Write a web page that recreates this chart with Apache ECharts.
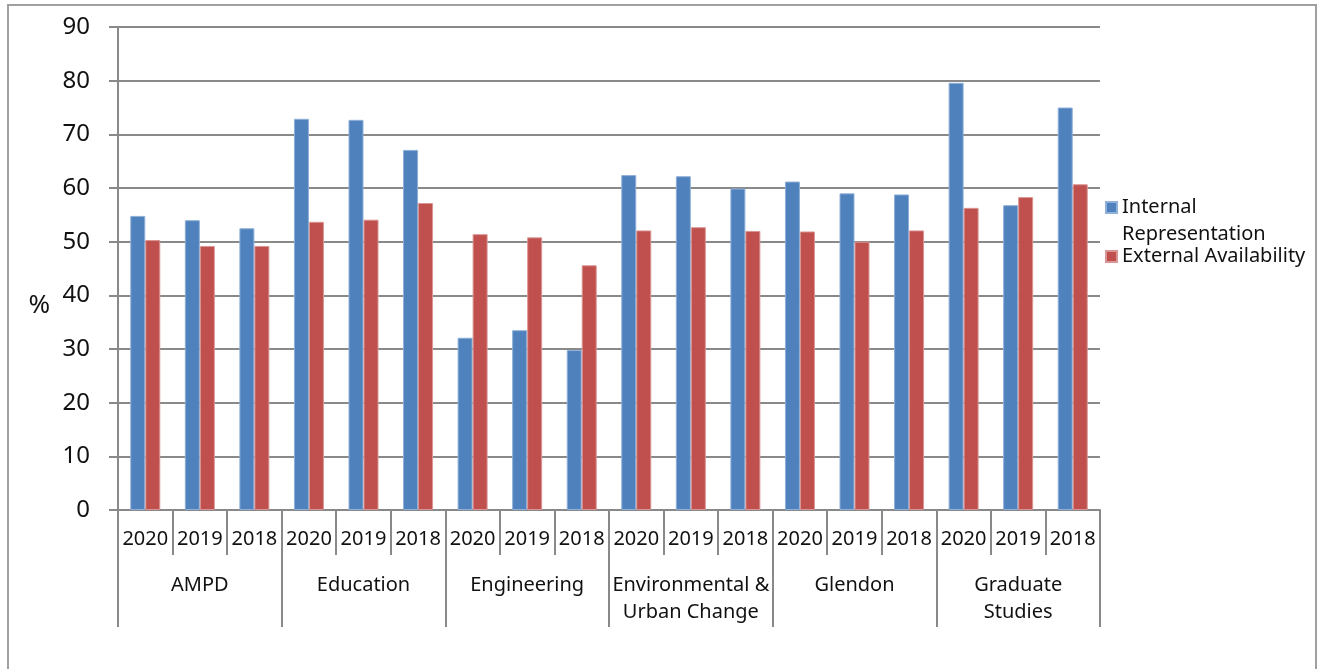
<!DOCTYPE html>
<html>
<head>
<meta charset="utf-8">
<script src="https://cdn.jsdelivr.net/npm/echarts@6/dist/echarts.min.js"></script>
<style>
  html, body { margin: 0; padding: 0; background: #fff; }
  #chart { width: 1322px; height: 669px; }
</style>
</head>
<body>
<div id="chart"></div>
<script>
const years = ['2020', '2019', '2018', '2020', '2019', '2018', '2020', '2019', '2018',
  '2020', '2019', '2018', '2020', '2019', '2018', '2020', '2019', '2018']
const groups = ['AMPD', 'Education', 'Engineering', 'Environmental &\nUrban Change', 'Glendon', 'Graduate\nStudies']
const internalRep = [54.8, 54.0, 52.5, 72.9, 72.7, 67.1, 32.1, 33.5, 29.8,
  62.4, 62.2, 59.9, 61.2, 59.0, 58.8, 79.6, 56.8, 75.0]
const externalAvail = [50.3, 49.2, 49.2, 53.7, 54.1, 57.2, 51.4, 50.8, 45.6,
  52.1, 52.7, 52.0, 51.9, 50.0, 52.1, 56.3, 58.3, 60.7]

const font = 'Noto Sans'
const gray = '#898989'
const ink = '#111'

const chart = echarts.init(document.getElementById('chart'))
chart.setOption({
  animation: false,
  textStyle: { fontFamily: font },
  graphic: [{
    type: 'rect',
    shape: { x: 8, y: 5, width: 1308, height: 700 },
    style: { fill: 'none', stroke: '#a0a0a0', lineWidth: 2 },
    z: -1
  }],
  grid: { left: 118, right: 222, top: 27, bottom: 159, containLabel: false, outerBoundsMode: 'none' },
  legend: [{
    data: ['Internal Representation'],
    left: 1105,
    top: 167,
    padding: 0,
    orient: 'vertical',
    itemWidth: 11,
    itemHeight: 11,
    icon: 'rect',
    // leading blank line keeps "Internal" level with the icon
    formatter: () => ' \nInternal\nRepresentation',
    textStyle: { fontSize: 20, color: ink, lineHeight: 27 }
  }, {
    data: ['External Availability'],
    left: 1105,
    top: 243,
    padding: 0,
    orient: 'vertical',
    itemWidth: 11,
    itemHeight: 11,
    icon: 'rect',
    textStyle: { fontSize: 20, color: ink, lineHeight: 27 }
  }],
  xAxis: [{
    type: 'category',
    data: years,
    position: 'bottom',
    axisLine: { show: true, lineStyle: { color: gray, width: 2 } },
    axisTick: { show: true, interval: 0, length: 45, lineStyle: { color: gray, width: 2 } },
    axisLabel: { interval: 0, fontSize: 20, color: ink, margin: 19 }
  }, {
    type: 'category',
    data: groups,
    position: 'bottom',
    offset: 0,
    axisLine: { show: false },
    axisTick: { show: true, interval: 0, length: 117, lineStyle: { color: gray, width: 2 } },
    axisLabel: { interval: 0, fontSize: 20, color: ink, margin: 62, lineHeight: 27, verticalAlign: 'top' }
  }],
  yAxis: {
    type: 'value',
    min: 0,
    max: 90,
    interval: 10,
    // blank first line drops the "%" a little below the middle, as in the original
    name: ' \n%',
    nameLocation: 'middle',
    nameRotate: 0,
    nameGap: 68,
    nameTextStyle: { fontSize: 26, color: ink, lineHeight: 74 },
    axisLine: { show: true, lineStyle: { color: gray, width: 2 } },
    axisTick: { show: true, length: 9, lineStyle: { color: gray, width: 2 } },
    axisLabel: { fontSize: 24, color: ink, margin: 28 },
    splitLine: { lineStyle: { color: gray, width: 2 } }
  },
  series: [{
    name: 'Internal Representation',
    type: 'bar',
    data: internalRep,
    barWidth: 15,
    barGap: '0%',
    itemStyle: { color: '#4f81bd', borderColor: '#8fb0d8', borderWidth: 1 }
  }, {
    name: 'External Availability',
    type: 'bar',
    data: externalAvail,
    barWidth: 15,
    barGap: '0%',
    itemStyle: { color: '#c0504d', borderColor: '#d99694', borderWidth: 1 }
  }]
})
</script>
</body>
</html>
